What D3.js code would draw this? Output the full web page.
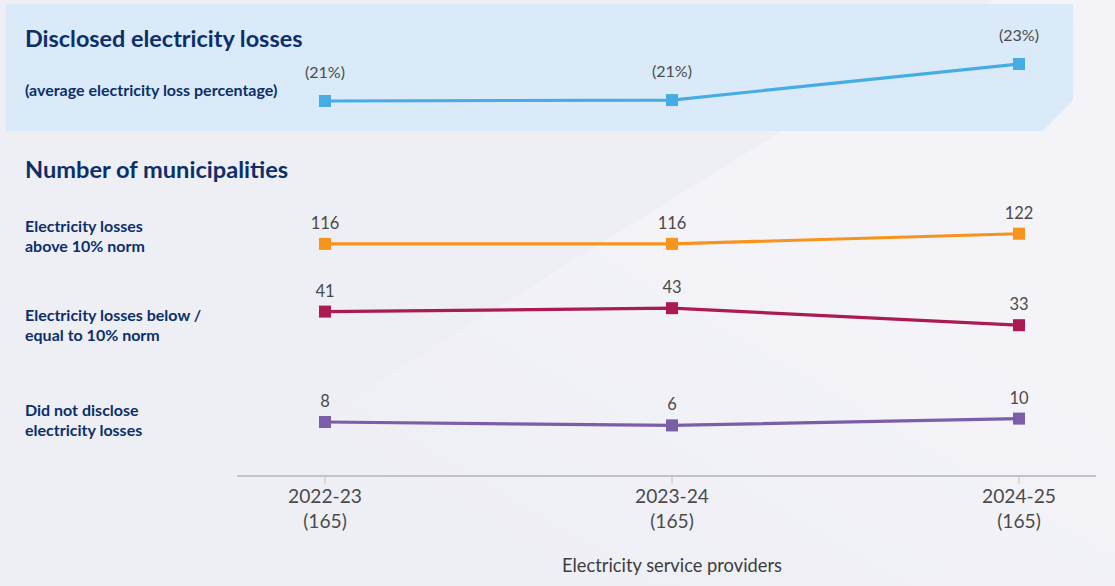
<!DOCTYPE html>
<html>
<head>
<meta charset="utf-8">
<script src="https://cdn.jsdelivr.net/npm/d3@7"></script>
<style>
  body { margin: 0; background: #eeeff5; }
  svg { display: block; font-family: Lato, "Open Sans", sans-serif; }
</style>
</head>
<body>
<div id="chart"></div>
<script>
// data
const years = ["2022-23", "2023-24", "2024-25"];
const providers = [165, 165, 165];
const lossPct = [21.0, 21.05, 23.0];
const seriesNames = ["above", "below", "none"];
const seriesLabels = [
    ["Electricity losses", "above 10% norm"],
    ["Electricity losses below /", "equal to 10% norm"],
    ["Did not disclose", "electricity losses"]
];
const aboveNorm = [116, 116, 122];
const belowNorm = [41, 43, 33];
const notDisclosed = [8, 6, 10];

const colors = {above: "#f7941d", below: "#ab1a51", none: "#7b5ea7", loss: "#45ade3"};
const navy = "#0c2f6b";
const grey = "#4a4a4a";

const W = 1115, H = 586;

const svg = d3.select("#chart")
    .append("svg")
    .attr("width", W)
    .attr("height", H);

// background shapes
const defs = svg.append("defs");
const grad = defs.append("linearGradient")
    .attr("id", "fade")
    .attr("x1", "0").attr("y1", "0.85").attr("x2", "0.45").attr("y2", "0.3");
grad.append("stop").attr("offset", "0").attr("stop-color", "#f3f3f8").attr("stop-opacity", 0);
grad.append("stop").attr("offset", "1").attr("stop-color", "#f3f3f8").attr("stop-opacity", 1);

svg.append("rect").attr("width", W).attr("height", H).attr("fill", "#eeeff5");
svg.append("path")
    .attr("d", d3.line()([[993, 0], [W, 0], [W, H], [560, H], [300, 430]]))
    .attr("fill", "url(#fade)");

// top panel
svg.append("path")
    .attr("d", d3.line().curve(d3.curveLinearClosed)([[6, 4], [1073, 4], [1073, 100], [1043, 131], [6, 131]]))
    .attr("fill", "#dbeaf8");

// scales
const x = d3.scalePoint().domain(years).range([325, 1019]);
const yLoss = d3.scaleLinear().domain([21, 23]).range([101, 64]);

// each row gets its own band; values move 1.7px per municipality inside it
const rowCenter = d3.scaleOrdinal().domain(seriesNames).range([240.5, 315, 422]);
const rows = [aboveNorm, belowNorm, notDisclosed];
function rowScale(i) {
    const m = d3.mean(rows[i]);
    const c = rowCenter(seriesNames[i]);
    return d3.scaleLinear().domain([m - 10, m + 10]).range([c + 17, c - 17]);
}

// titles
svg.append("text").attr("x", 25).attr("y", 47)
    .attr("fill", navy).attr("font-weight", 700).attr("font-size", 23.4)
    .text("Disclosed electricity losses");
svg.append("text").attr("x", 25).attr("y", 96)
    .attr("fill", navy).attr("font-weight", 700).attr("font-size", 16)
    .text("(average electricity loss percentage)");
svg.append("text").attr("x", 25).attr("y", 178)
    .attr("fill", navy).attr("font-weight", 700).attr("font-size", 23.6)
    .text("Number of municipalities");

const labelBase = [232, 321, 416];
seriesLabels.forEach((lines, i) => {
    const t = svg.append("text").attr("x", 25).attr("y", labelBase[i])
        .attr("fill", navy).attr("font-weight", 700).attr("font-size", 16);
    lines.forEach((l, j) => {
        t.append("tspan").attr("x", 25).attr("dy", j === 0 ? 0 : 19.5).text(l);
    });
});

// draw a series
function drawSeries(values, yScale, color, fmt, labelOffset, fontSize) {
    const pts = values.map((v, i) => [x(years[i]), yScale(v)]);
    const g = svg.append("g");
    g.append("path")
        .attr("d", d3.line()(pts))
        .attr("fill", "none")
        .attr("stroke", color)
        .attr("stroke-width", 3.2);
    g.selectAll("rect")
        .data(pts)
        .enter()
        .append("rect")
        .attr("x", d => d[0] - 6)
        .attr("y", d => d[1] - 6)
        .attr("width", 12)
        .attr("height", 12)
        .attr("fill", color);
    g.selectAll("text")
        .data(values)
        .enter()
        .append("text")
        .attr("x", (d, i) => x(years[i]))
        .attr("y", d => yScale(d) - labelOffset)
        .attr("text-anchor", "middle")
        .attr("fill", grey)
        .attr("font-size", fontSize)
        .text(fmt);
}

drawSeries(lossPct, yLoss, colors.loss, d => `(${Math.round(d)}%)`, 23, 16);
rows.forEach((vals, i) => {
    drawSeries(vals, rowScale(i), colors[seriesNames[i]], d => d, 15, 16.5);
});

// x axis
const axisY = 476;
svg.append("line")
    .attr("x1", 237).attr("x2", 1096)
    .attr("y1", axisY).attr("y2", axisY)
    .attr("stroke", "#c2c3c9").attr("stroke-width", 2);
const ticks = svg.append("g").selectAll("g")
    .data(years)
    .enter()
    .append("g")
    .attr("transform", d => `translate(${x(d)},${axisY})`);
ticks.append("line").attr("y1", 1).attr("y2", 8).attr("stroke", "#c2c3c9");
ticks.append("text").attr("y", 27).attr("text-anchor", "middle")
    .attr("fill", grey).attr("font-size", 19.2).text(d => d);
ticks.append("text").attr("y", 52).attr("text-anchor", "middle")
    .attr("fill", grey).attr("font-size", 19.2).text((d, i) => `(${providers[i]})`);

svg.append("text").attr("x", 672).attr("y", 572)
    .attr("text-anchor", "middle").attr("fill", "#3d3d3d").attr("font-size", 18.3)
    .text("Electricity service providers");
</script>
</body>
</html>
